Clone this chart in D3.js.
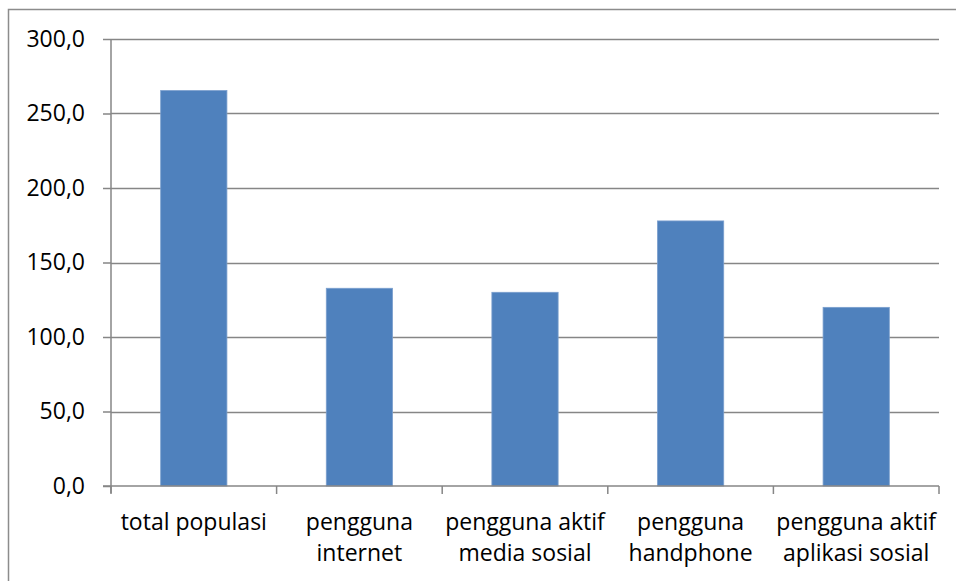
<!DOCTYPE html>
<html><head><meta charset="utf-8">
<script src="https://cdn.jsdelivr.net/npm/d3@7"></script>
<style>body{margin:0;background:#fff}svg{display:block}</style>
</head><body>
<script>
const categories = [["total populasi"],["pengguna","internet"],["pengguna aktif","media sosial"],["pengguna","handphone"],["pengguna aktif","aplikasi sosial"]];
const values = [265.4, 132.7, 130.0, 177.9, 119.9];
const yTicks = [0,50,100,150,200,250,300];

const W=956,H=581;
const m={left:111,right:17,top:39,bottom:95};
const svg=d3.select("body").append("svg").attr("width",W).attr("height",H);
const font="'Open Sans', 'Liberation Sans', sans-serif";
const fs=23;

svg.append("rect").attr("x",8.5).attr("y",9.5).attr("width",W).attr("height",H)
  .attr("fill","none").attr("stroke","#8c8c8c").attr("stroke-width",1.5);

const x=d3.scaleBand().domain(d3.range(categories.length)).range([m.left,W-m.right]).paddingInner(0.6).paddingOuter(0.3);
const y=d3.scaleLinear().domain([0,300]).range([H-m.bottom,m.top]);

// gridlines
svg.append("g").selectAll("line").data(yTicks.filter(d=>d>0)).join("line")
  .attr("x1",m.left).attr("x2",W-m.right).attr("y1",d=>Math.round(y(d))+0.5).attr("y2",d=>Math.round(y(d))+0.5)
  .attr("stroke","#868686").attr("stroke-width",1.5);

// bars
svg.append("g").selectAll("rect").data(values).join("rect")
  .attr("x",(d,i)=>x(i)).attr("width",x.bandwidth()).attr("y",d=>y(d)).attr("height",d=>y(0)-y(d))
  .attr("fill","#4F81BD").attr("stroke","#7a9fce").attr("stroke-width",0.8);

// y axis
const ya=svg.append("g").attr("transform",`translate(${m.left},0)`)
  .call(d3.axisLeft(y).tickValues(yTicks).tickSize(8).tickSizeOuter(0).tickPadding(18).tickFormat(d=>d3.format(".1f")(d).replace(".",",")));
ya.select(".domain").attr("stroke","#868686").attr("stroke-width",1.5).attr("d",`M0,${m.top}V${y(0)+7}`);
ya.selectAll(".tick line").attr("stroke","#868686").attr("stroke-width",1.5);
ya.selectAll("text").attr("font-family",font).attr("font-size",fs).attr("fill","#000");

// x axis
const bounds=d3.range(categories.length+1).map(i=>m.left+(W-m.right-m.left)*i/categories.length);
const xa=svg.append("g");
xa.append("line").attr("x1",m.left-8).attr("x2",W-m.right).attr("y1",y(0)).attr("y2",y(0)).attr("stroke","#868686").attr("stroke-width",1.5);
xa.selectAll("line.t").data(bounds).join("line").attr("class","t")
  .attr("x1",d=>d).attr("x2",d=>d).attr("y1",y(0)).attr("y2",y(0)+8).attr("stroke","#868686").attr("stroke-width",1.5);
const lab=xa.selectAll("text").data(categories).join("text")
  .attr("text-anchor","middle").attr("font-family",font).attr("font-size",fs).attr("fill","#000");
lab.each(function(lines,i){
  const t=d3.select(this);
  lines.forEach((s,j)=>t.append("tspan").attr("x",x(i)+x.bandwidth()/2).attr("y",530+j*31).text(s));
});
</script>
</body></html>
